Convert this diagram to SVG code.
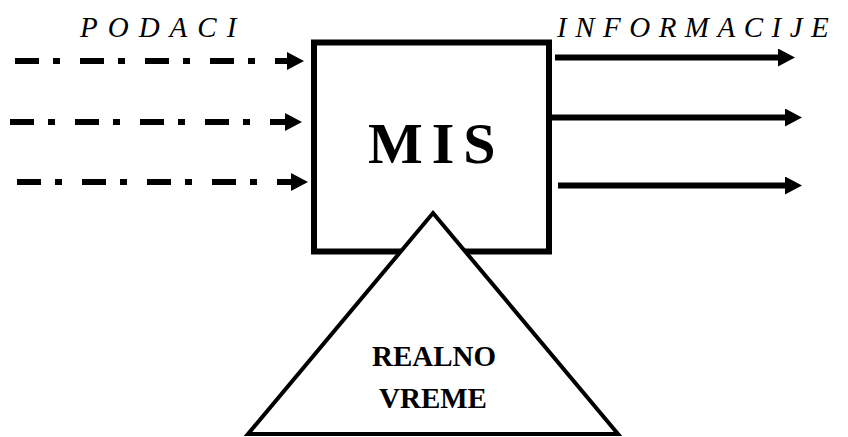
<svg xmlns="http://www.w3.org/2000/svg" width="848" height="437" viewBox="0 0 848 437">
<style>
.lbl{font-family:'Liberation Serif','Times New Roman',serif;font-style:italic;font-size:29px;fill:#000}
.bold{font-family:'Liberation Serif','Times New Roman',serif;font-weight:bold;fill:#000}
.dash{stroke:#000;stroke-width:6;fill:none;stroke-dasharray:24 14 7 20}
.solid{stroke:#000;stroke-width:6;fill:none}
</style>
<defs>
<marker id="ah" markerUnits="userSpaceOnUse" markerWidth="18" markerHeight="18" refX="0" refY="9" orient="auto" viewBox="0 0 18 18">
<path d="M0,0 L17,9 L0,18 z" fill="#000"/>
</marker>
</defs>
<rect width="848" height="437" fill="#fff"/>
<text class="lbl" x="80" y="37" letter-spacing="10">PODACI</text>
<text class="lbl" x="557" y="37" letter-spacing="8.5">INFORMACIJE</text>
<g id="mis">
<rect x="314" y="42.5" width="235" height="209" fill="#fff" stroke="#000" stroke-width="6"/>
<text class="bold" x="368" y="163" font-size="58" letter-spacing="9">MIS</text>
</g>
<g id="realno">
<polygon points="433,213 618,434 248,434" fill="#fff" stroke="#000" stroke-width="4" stroke-linejoin="miter"/>
<text class="bold" x="434" y="366" font-size="29" text-anchor="middle">REALNO</text>
<text class="bold" x="433" y="408" font-size="29" text-anchor="middle">VREME</text>
</g>
<g id="connectors">
<line class="dash" x1="15" y1="61" x2="287" y2="61" marker-end="url(#ah)"/>
<line class="dash" x1="10" y1="122" x2="285" y2="122" marker-end="url(#ah)"/>
<line class="dash" x1="17" y1="182" x2="291" y2="182" marker-end="url(#ah)"/>
<line class="solid" x1="555" y1="57.5" x2="778" y2="57.5" marker-end="url(#ah)"/>
<line class="solid" x1="549" y1="117.5" x2="785" y2="117.5" marker-end="url(#ah)"/>
<line class="solid" x1="558" y1="185.5" x2="785" y2="185.5" marker-end="url(#ah)"/>
</g>
</svg>
